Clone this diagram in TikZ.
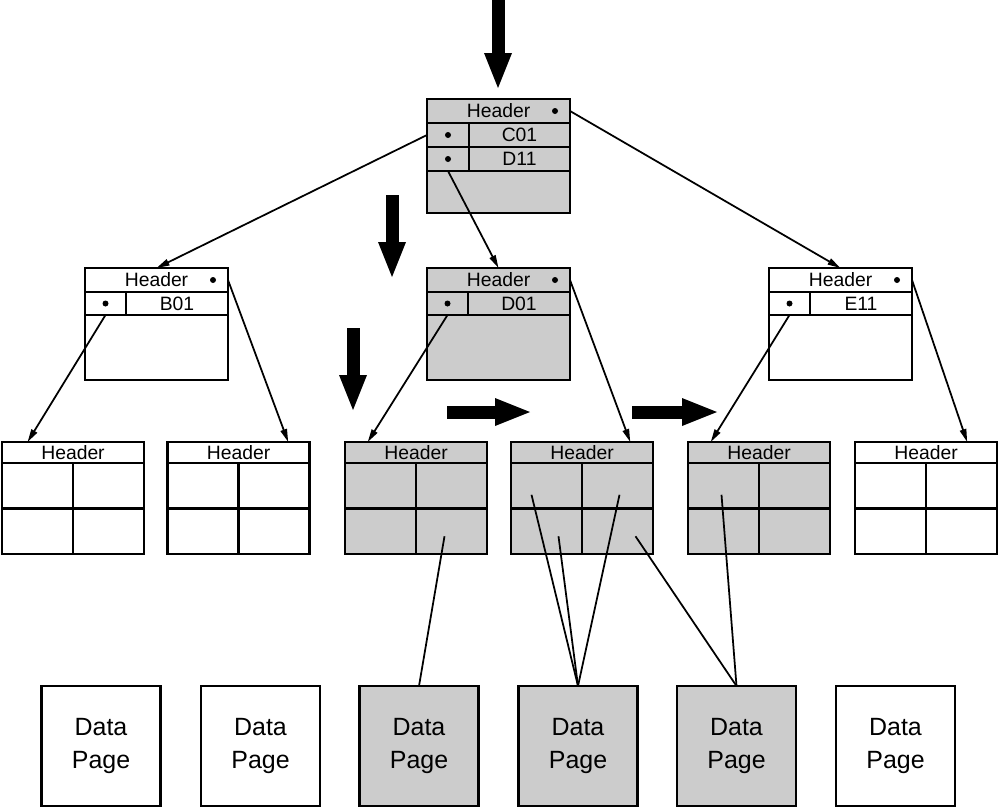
\documentclass[tikz,border=0pt]{standalone}
\usepackage{fontspec}
\setmainfont{Liberation Sans}
\usetikzlibrary{positioning, arrows.meta, calc}

\begin{document}
\begin{tikzpicture}[
    x=0.2mm, y=-0.2mm,
    box/.style={
        rectangle,
        draw,
        line width=1.5pt,
        inner sep=0pt,
        outer sep=0pt
    },
    cell/.style={
        box,
        font=\fontsize{11}{12}\selectfont
    },
    shaded/.style={fill=black!20},
    page/.style={
        box,
        minimum width=2.38cm,
        minimum height=2.4cm,
        align=center,
        font=\fontsize{14.2}{18.5}\selectfont
    },
    dot/.style={
        circle,
        fill,
        inner sep=0pt,
        minimum size=0.12cm
    },
    ptr/.style={
        -{Triangle[length=0.26cm, width=0.13cm]},
        line width=1pt
    },
    link/.style={line width=1pt},
    bigarrow/.style={
        -{Triangle[length=0.7cm, width=0.56cm, line width=0pt]},
        line width=0.26cm
    }
]
    \useasboundingbox (0,0) rectangle (1000,809);

    % --- Root: C01 / D11 ---
    \node[box, shaded, minimum width=2.86cm, minimum height=2.28cm, anchor=north] (root) at (498.5,99) {};
    \node[cell, minimum width=2.86cm, minimum height=0.48cm, anchor=north] (root-h) at (root.north) {Header};
    \node[cell, minimum width=0.84cm, minimum height=0.48cm, anchor=north west] (root-p1) at (root-h.south west) {};
    \node[cell, minimum width=2.02cm, minimum height=0.48cm, anchor=north east] (root-k1) at (root-h.south east) {C01};
    \node[cell, minimum width=0.84cm, minimum height=0.48cm, anchor=north west] (root-p2) at (root-p1.south west) {};
    \node[cell, minimum width=2.02cm, minimum height=0.48cm, anchor=north east] (root-k2) at (root-k1.south east) {D11};
    \node[dot] at ($(root-h.east)+(-15,0)$) {};
    \node[dot] at (root-p1.center) {};
    \node[dot] at (root-p2.center) {};

    % --- Second level ---
    \foreach \n/\cx/\k/\f in {b01/156.5/B01/white, d01/498.5/D01/black!20, e11/840.5/E11/white} {
        \node[box, fill=\f, minimum width=2.86cm, minimum height=2.24cm, anchor=north] (\n) at (\cx,268) {};
        \node[cell, minimum width=2.86cm, minimum height=0.48cm, anchor=north] (\n-h) at (\n.north) {Header};
        \node[cell, minimum width=0.82cm, minimum height=0.46cm, anchor=north west] (\n-p) at (\n-h.south west) {};
        \node[cell, minimum width=2.04cm, minimum height=0.46cm, anchor=north east] (\n-k) at (\n-h.south east) {\k};
        \node[dot] at ($(\n-h.east)+(-15,0)$) {};
        \node[dot] at (\n-p.center) {};
    }

    % --- Leaves ---
    \foreach \i/\cx/\f in {1/73/white, 2/238.5/white, 3/416/black!20, 4/582/black!20, 5/759/black!20, 6/926/white} {
        \node[box, fill=\f, minimum width=2.84cm, minimum height=2.24cm, anchor=north] (leaf\i) at (\cx,442) {};
        \node[cell, minimum width=2.84cm, minimum height=0.42cm, anchor=north] (leaf\i-h) at (leaf\i.north) {Header};
        \node[cell, minimum width=1.42cm, minimum height=0.91cm, anchor=north west] (leaf\i-a) at (leaf\i-h.south west) {};
        \node[cell, minimum width=1.42cm, minimum height=0.91cm, anchor=north east] (leaf\i-b) at (leaf\i-h.south east) {};
        \node[cell, minimum width=1.42cm, minimum height=0.91cm, anchor=north west] (leaf\i-c) at (leaf\i-a.south west) {};
        \node[cell, minimum width=1.42cm, minimum height=0.91cm, anchor=north east] (leaf\i-d) at (leaf\i-b.south east) {};
    }

    % --- Data pages ---
    \foreach \i/\cx/\f in {1/101/white, 2/260.5/white, 3/419/black!20, 4/578/black!20, 5/736.5/black!20, 6/895.5/white} {
        \node[page, fill=\f] (page\i) at (\cx,746) {Data\\Page};
    }

    % Pointers between index pages
    \draw[ptr] (root-p1.west) -- (b01.north);
    \draw[ptr] (root-p2.south) -- (d01.north);
    \draw[ptr] (root-h.east) -- (e11.north);
    \draw[ptr] (b01-p.south) -- ($(leaf1.north west)!0.18!(leaf1.north east)$);
    \draw[ptr] (b01-h.east) -- ($(leaf2.north west)!0.85!(leaf2.north east)$);
    \draw[ptr] (d01-p.south) -- ($(leaf3.north west)!0.16!(leaf3.north east)$);
    \draw[ptr] (d01-h.east) -- ($(leaf4.north west)!0.84!(leaf4.north east)$);
    \draw[ptr] (e11-p.south) -- ($(leaf5.north west)!0.16!(leaf5.north east)$);
    \draw[ptr] (e11-h.east) -- ($(leaf6.north west)!0.79!(leaf6.north east)$);

    % Leaf entries to data pages
    \draw[link] ($(leaf3-d.center)+(-7,5)$) -- (page3.north);
    \draw[link] ($(leaf4-a.center)+(-15,9)$) -- (page4.north);
    \draw[link] ($(leaf4-c.center)+(12,5)$) -- (page4.north);
    \draw[link] ($(leaf4-b.center)+(2,9)$) -- (page4.north);
    \draw[link] ($(leaf4-d.center)+(18,5)$) -- (page5.north);
    \draw[link] ($(leaf5-a.center)+(-2,9)$) -- (page5.north);

    % Search path markers
    \coordinate (m1) at (498,0);
    \coordinate (m2) at (392,195);
    \coordinate (m3) at (353,328);
    \coordinate (m4) at (447,412);
    \coordinate (m5) at (632,412);
    \draw[bigarrow] (m1) -- ++(0,88);
    \draw[bigarrow] (m2) -- ++(0,82);
    \draw[bigarrow] (m3) -- ++(0,82);
    \draw[bigarrow] (m4) -- ++(83,0);
    \draw[bigarrow] (m5) -- ++(85,0);

\end{tikzpicture}
\end{document}
